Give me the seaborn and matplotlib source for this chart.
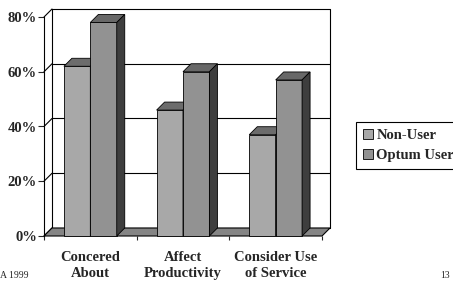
import numpy as np
import pandas as pd
import matplotlib
matplotlib.use("Agg")
import matplotlib.pyplot as plt
import seaborn as sns
from matplotlib.patches import Polygon, Patch

categories = ["Concered\nAbout", "Affect\nProductivity", "Consider Use\nof Service"]
groups = ["Non-User", "Optum User"]
non_user = [62, 46, 37]
optum_user = [78, 60, 57]
yticks = [0, 20, 40, 60, 80]
ytick_labels = ["0%", "20%", "40%", "60%", "80%"]

front_colors = ["#a8a8a8", "#929292"]
top_colors = ["#6c6c6c", "#686868"]
side_colors = ["#4a4a4a", "#3e3e3e"]

df = pd.DataFrame({
    "cat": categories * 2,
    "grp": [groups[0]] * 3 + [groups[1]] * 3,
    "val": non_user + optum_user,
})

sns.set_style("white")
plt.rcParams["font.family"] = ["Liberation Serif", "DejaVu Serif"]

W, H, DPI = 453, 286, 100
fig = plt.figure(figsize=(W / DPI, H / DPI), dpi=DPI)
ax = fig.add_axes([44 / W, 50 / H, 278 / W, 219 / H])

sns.barplot(data=df, x="cat", y="val", hue="grp", palette=front_colors,
            width=0.57, edgecolor="black", linewidth=0.6, ax=ax,
            legend=False, saturation=1, zorder=3)

xmin, xmax = -0.5, 2.5
ymin, ymax = 0, 80
ax.set_xlim(xmin, xmax)
ax.set_ylim(ymin, ymax)

depth_px = 8
dx = depth_px / (278 / (xmax - xmin))
dy = depth_px / (219 / (ymax - ymin))

# back wall gridlines
for yv in yticks:
    ax.plot([xmin + dx, xmax + dx], [yv + dy, yv + dy], color="black", lw=0.8,
            clip_on=False, zorder=1)
    ax.plot([xmin, xmin + dx], [yv, yv + dy], color="black", lw=0.8,
            clip_on=False, zorder=1)
ax.plot([xmin + dx, xmin + dx], [dy, ymax + dy], color="black", lw=0.8,
        clip_on=False, zorder=1)
ax.plot([xmax + dx, xmax + dx], [dy, ymax + dy], color="black", lw=0.8,
        clip_on=False, zorder=1)

# floor
floor = Polygon([(xmin, 0), (xmax, 0), (xmax + dx, dy), (xmin + dx, dy)],
                closed=True, facecolor="#858585", edgecolor="black", lw=0.8,
                clip_on=False, zorder=2)
ax.add_patch(floor)

# 3D faces on bars
bars = [p for p in ax.patches if not isinstance(p, Polygon)]
for idx, p in enumerate(bars):
    g = idx // 3
    x0 = p.get_x()
    x1 = x0 + p.get_width()
    h = p.get_height()
    top = Polygon([(x0, h), (x1, h), (x1 + dx, h + dy), (x0 + dx, h + dy)],
                  closed=True, facecolor=top_colors[g], edgecolor="black",
                  lw=0.6, clip_on=False, zorder=3 + g)
    side = Polygon([(x1, 0), (x1 + dx, dy), (x1 + dx, h + dy), (x1, h)],
                   closed=True, facecolor=side_colors[g], edgecolor="black",
                   lw=0.6, clip_on=False, zorder=3 + g)
    p.set_zorder(3 + g)
    p.set_clip_on(False)
    ax.add_patch(top)
    ax.add_patch(side)

for s in ["top", "right", "bottom"]:
    ax.spines[s].set_visible(False)
ax.spines["left"].set_color("black")
ax.spines["left"].set_linewidth(0.8)

ax.set_yticks(yticks)
ax.set_yticklabels(ytick_labels, fontsize=10.5, fontweight="bold")
ax.tick_params(axis="y", direction="out", length=4, width=0.8, pad=1, left=True)
ax.set_xticks([0, 1, 2])
ax.set_xticklabels(categories, fontsize=10.5, fontweight="bold", linespacing=1.3)
ax.tick_params(axis="x", length=0, pad=11)
ax.set_xticks([-0.5, 0.5, 1.5, 2.5], minor=True)
ax.tick_params(axis="x", which="minor", direction="out", length=3, width=0.8, bottom=True)
ax.set_xlabel("")
ax.set_ylabel("")

handles = [Patch(facecolor=front_colors[0], edgecolor="black", lw=0.6),
           Patch(facecolor=front_colors[1], edgecolor="black", lw=0.6)]
leg = fig.legend(handles, groups, loc="upper left",
                 bbox_to_anchor=(356 / W, (H - 122) / H),
                 frameon=True, fancybox=False, framealpha=1, edgecolor="black",
                 prop={"family": "Liberation Serif", "weight": "bold", "size": 10.5},
                 handlelength=0.65, handleheight=0.65, handletextpad=0.25,
                 borderpad=0.5, labelspacing=0.45, borderaxespad=0)
leg.get_frame().set_linewidth(0.8)

fig.text(0 / W, (H - 276) / H, "A 1999", fontsize=7, va="center", ha="left")
fig.text(440 / W, (H - 276) / H, "13", fontsize=7, va="center", ha="left")

fig.savefig("out.png", dpi=DPI, facecolor="white")
